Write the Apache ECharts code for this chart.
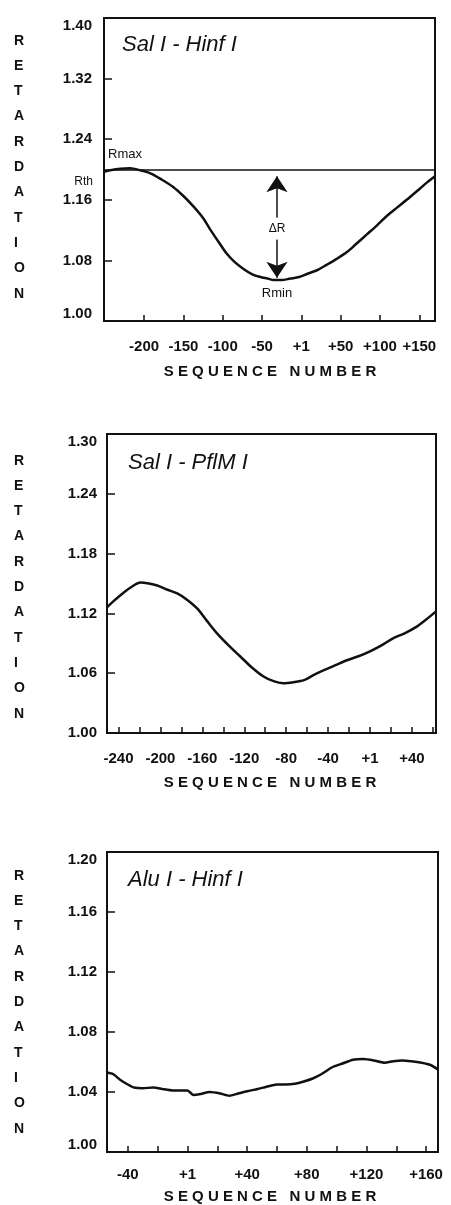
<!DOCTYPE html>
<html>
<head>
<meta charset="utf-8">
<script src="https://cdn.jsdelivr.net/npm/echarts@6/dist/echarts.min.js"></script>
<style>
  html, body { margin: 0; padding: 0; background: #fff; }
  #main { width: 451px; height: 1205px; }
</style>
</head>
<body>
<div id="main"></div>
<script>
// panel names
const panelNames = ['Sal I - Hinf I', 'Sal I - PflM I', 'Alu I - Hinf I'];

// panel 1: Sal I - Hinf I
const seq1 = [-251, -243, -230, -218, -205, -192, -178, -163, -150, -137, -125, -116, -105, -95, -85, -74, -63, -52, -43, -35, -25, -14, -3, 7, 20, 32, 45, 58, 70, 83, 96, 109, 122, 134, 151, 160, 170];
const ret1 = [1.197, 1.199, 1.201, 1.2015, 1.199, 1.195, 1.187, 1.177, 1.165, 1.151, 1.136, 1.121, 1.104, 1.089, 1.078, 1.069, 1.062, 1.058, 1.056, 1.054, 1.054, 1.056, 1.058, 1.062, 1.067, 1.074, 1.082, 1.091, 1.102, 1.114, 1.126, 1.139, 1.150, 1.160, 1.175, 1.183, 1.191];
const xTicks1 = [-200, -150, -100, -50, 0, 50, 100, 150];
const xLabels1 = ['-200', '-150', '-100', '-50', '+1', '+50', '+100', '+150'];
const yTicks1 = [1.00, 1.08, 1.16, 1.24, 1.32, 1.40];
const rMax = 1.20;
const rMinPos = [-31, 1.054];
const arrowX = -31;
const arrowTop = 1.191;
const arrowBottom = 1.057;

// panel 2: Sal I - PflM I
const seq2 = [-251, -245, -235, -227, -219, -211, -203, -194, -184, -175, -165, -156, -146, -135, -124, -113, -102, -92, -83, -73, -63, -54, -44, -33, -22, -11, 0, 11, 22, 33, 45, 55, 63];
const ret2 = [1.126, 1.132, 1.141, 1.147, 1.151, 1.150, 1.148, 1.144, 1.140, 1.134, 1.125, 1.113, 1.100, 1.088, 1.077, 1.066, 1.057, 1.052, 1.050, 1.051, 1.053, 1.058, 1.063, 1.068, 1.073, 1.077, 1.082, 1.088, 1.095, 1.100, 1.107, 1.115, 1.122];
const xTicks2 = [-240, -220, -200, -180, -160, -140, -120, -100, -80, -60, -40, -20, 0, 20, 40, 60];
const xLabelVals2 = [-240, -200, -160, -120, -80, -40, 0, 40];
const xLabels2 = ['-240', '-200', '-160', '-120', '-80', '-40', '+1', '+40'];
const yTicks2 = [1.00, 1.06, 1.12, 1.18, 1.24, 1.30];

// panel 3: Alu I - Hinf I
const seq3 = [-54, -50, -45, -40, -36, -30, -23, -17, -10, -4, 0, 4, 8, 15, 22, 28, 34, 40, 47, 53, 60, 66, 72, 78, 84, 90, 97, 104, 111, 118, 125, 132, 138, 144, 150, 157, 163, 168];
const ret3 = [1.053, 1.052, 1.048, 1.045, 1.043, 1.0425, 1.043, 1.042, 1.041, 1.041, 1.041, 1.038, 1.0385, 1.040, 1.039, 1.0375, 1.039, 1.0405, 1.042, 1.0435, 1.045, 1.045, 1.0455, 1.047, 1.049, 1.052, 1.0565, 1.059, 1.0615, 1.062, 1.061, 1.0595, 1.0605, 1.061, 1.0605, 1.0595, 1.058, 1.055];
const xTicks3 = [-40, -20, 0, 20, 40, 60, 80, 100, 120, 140, 160];
const xLabelVals3 = [-40, 0, 40, 80, 120, 160];
const xLabels3 = ['-40', '+1', '+40', '+80', '+120', '+160'];
const yTicks3 = [1.00, 1.04, 1.08, 1.12, 1.16, 1.20];

const ink = '#111';
const font = "'Liberation Sans', Arial, Helvetica, sans-serif";

const chart = echarts.init(document.getElementById('main'), null, { renderer: 'canvas' });

function zip(xs, ys) {
  return xs.map((x, i) => [x, ys[i]]);
}

function xAxisOf(grid, min, max, ticks, labelVals, labels, margin) {
  return {
    type: 'value', gridIndex: grid, min: min, max: max,
    axisLine: { show: false, onZero: false },
    splitLine: { show: false },
    axisTick: { inside: true, length: 6, customValues: ticks, lineStyle: { color: ink, width: 1.5 } },
    axisLabel: {
      customValues: labelVals, margin: margin,
      color: ink, fontFamily: font, fontSize: 15, fontWeight: 'bold',
      formatter: v => labels[labelVals.indexOf(v)]
    }
  };
}

function yAxisOf(grid, ticks, margin, shiftMin) {
  return {
    type: 'value', gridIndex: grid, min: ticks[0], max: ticks[ticks.length - 1],
    axisLine: { show: false, onZero: false },
    splitLine: { show: false },
    axisTick: { inside: true, length: 8, customValues: ticks, lineStyle: { color: ink, width: 1.5 } },
    axisLabel: {
      customValues: ticks, margin: margin,
      color: ink, fontFamily: font, fontSize: 15, fontWeight: 'bold',
      verticalAlignMaxLabel: 'top',
      verticalAlignMinLabel: shiftMin ? 'bottom' : 'middle',
      formatter: v => v.toFixed(2)
    }
  };
}

const gridStyle = { show: true, borderColor: ink, borderWidth: 2, backgroundColor: 'transparent' };

function vertTitle(top) {
  return {
    type: 'text', left: 14, top: top,
    style: {
      text: 'RETARDATION'.split('').join('\n'),
      fill: ink, font: 'bold 14px ' + font, lineHeight: 25.3, align: 'center'
    }
  };
}

function seqTitle(y) {
  return {
    type: 'text', x: 270, y: y,
    style: {
      text: 'S E Q U E N C E   N U M B E R',
      fill: ink, font: 'bold 15px ' + font, align: 'center', verticalAlign: 'middle'
    }
  };
}

function panelTitle(x, y, text) {
  return {
    type: 'text', x: x, y: y,
    style: { text: text, fill: ink, font: 'italic 22px ' + font, verticalAlign: 'middle' }
  };
}

const lineStyle = { color: ink, width: 2.5 };
const noteLabel = { show: true, color: ink, fontFamily: font, fontSize: 13 };

chart.setOption({
  animation: false,
  backgroundColor: '#fff',
  grid: [
    Object.assign({ left: 104, top: 18, width: 331, height: 303 }, gridStyle),
    Object.assign({ left: 107, top: 434, width: 329, height: 299 }, gridStyle),
    Object.assign({ left: 107, top: 852, width: 331, height: 300 }, gridStyle)
  ],
  xAxis: [
    xAxisOf(0, -251, 170, xTicks1, xTicks1, xLabels1, 18),
    xAxisOf(1, -251, 63, xTicks2, xLabelVals2, xLabels2, 18),
    xAxisOf(2, -54, 168, xTicks3, xLabelVals3, xLabels3, 15)
  ],
  yAxis: [
    yAxisOf(0, yTicks1, 12, true),
    yAxisOf(1, yTicks2, 10, false),
    yAxisOf(2, yTicks3, 10, true)
  ],
  series: [
    {
      type: 'line', xAxisIndex: 0, yAxisIndex: 0, data: zip(seq1, ret1),
      showSymbol: false, smooth: 0.3, lineStyle: lineStyle, silent: true,
      markLine: {
        silent: true,
        label: { show: false },
        data: [
          [
            { coord: [-251, rMax], symbol: 'none', lineStyle: { color: ink, width: 1.5, type: 'solid' } },
            { coord: [170, rMax], symbol: 'none' }
          ],
          [
            { coord: [arrowX, arrowTop], symbol: 'arrow', symbolSize: 16, lineStyle: { color: ink, width: 1.5, type: 'solid' } },
            { coord: [arrowX, arrowBottom], symbol: 'arrow', symbolSize: 16 }
          ]
        ]
      },
      markPoint: {
        silent: true,
        symbol: 'circle', symbolSize: 0,
        data: [
          { coord: [-251, rMax], label: Object.assign({ position: 'right', distance: 4, offset: [0, -15], formatter: 'Rmax' }, noteLabel) },
          { coord: [-251, rMax], label: Object.assign({ position: 'left', distance: 11, offset: [0, 12], formatter: 'Rth' }, noteLabel, { fontSize: 12 }) },
          { coord: rMinPos, label: Object.assign({ position: 'bottom', distance: 7, formatter: 'Rmin' }, noteLabel) },
          { coord: [arrowX, (arrowTop + arrowBottom) / 2 - 0.002],
            label: { show: true, position: 'inside', formatter: '\u0394R', color: ink, fontFamily: font, fontSize: 12,
              backgroundColor: '#fff', padding: [5, 2] } }
        ]
      }
    },
    {
      type: 'line', xAxisIndex: 1, yAxisIndex: 1, data: zip(seq2, ret2),
      showSymbol: false, smooth: 0.3, lineStyle: lineStyle, silent: true
    },
    {
      type: 'line', xAxisIndex: 2, yAxisIndex: 2, data: zip(seq3, ret3),
      showSymbol: false, smooth: 0.2, lineStyle: lineStyle, silent: true
    }
  ],
  graphic: [
    vertTitle(28),
    vertTitle(448),
    vertTitle(863),
    seqTitle(372),
    seqTitle(783),
    seqTitle(1197),
    panelTitle(122, 45, panelNames[0]),
    panelTitle(128, 463, panelNames[1]),
    panelTitle(128, 880, panelNames[2])
  ]
});
</script>
</body>
</html>
